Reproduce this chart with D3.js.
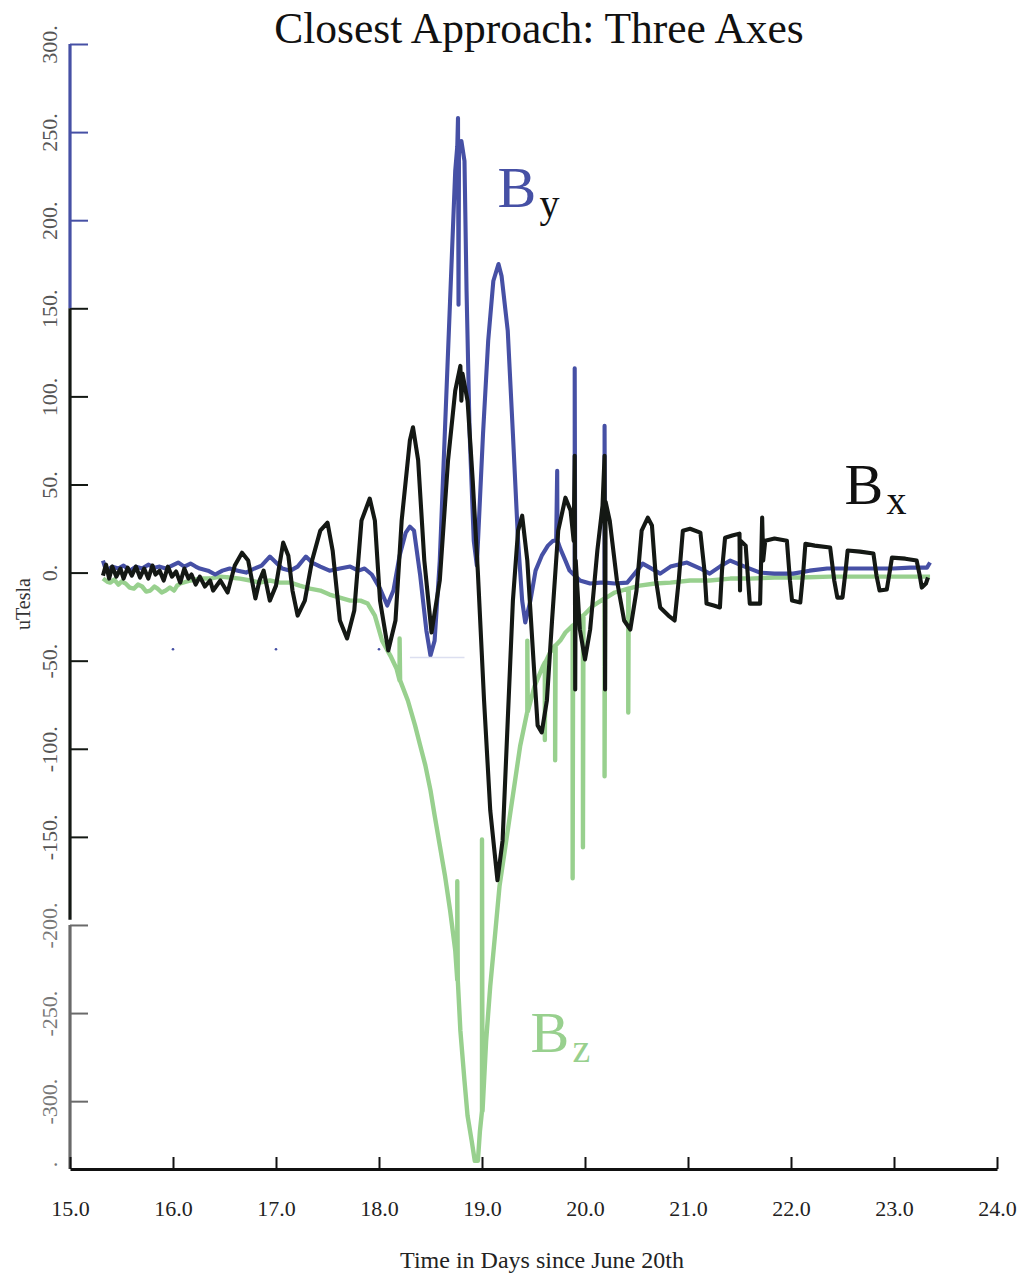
<!DOCTYPE html>
<html>
<head>
<meta charset="utf-8">
<script src="https://cdn.jsdelivr.net/npm/d3@7"></script>
<style>
  body { margin: 0; background: #fff; }
  svg { display: block; font-family: "Liberation Serif", "Times New Roman", serif; }
</style>
</head>
<body>
<div id="chart"></div>
<script>
// [days since June 20th, uTesla]
const bz = [
  [15.32,-3.4],[15.36,-5.1],[15.39,-5.7],[15.43,-4.0],[15.47,-6.8],[15.50,-5.1],[15.54,-6.2],[15.58,-8.5],
  [15.62,-9.1],[15.66,-6.8],[15.70,-7.9],[15.74,-10.8],[15.78,-10.2],[15.82,-7.9],[15.85,-9.1],[15.89,-11.3],
  [15.93,-10.2],[15.97,-8.5],[16.01,-10.2],[16.04,-7.4],[16.07,-6.2],[16.17,-4.5],[16.26,-3.4],[16.36,-3.4],
  [16.46,-2.3],[16.55,-2.8],[16.65,-3.4],[16.75,-4.5],[16.84,-5.7],[16.94,-4.5],[17.04,-5.7],[17.14,-5.7],
  [17.23,-7.4],[17.33,-9.1],[17.43,-10.2],[17.52,-12.5],[17.62,-14.2],[17.72,-15.9],[17.82,-15.9],
  [17.89,-17.6],[17.96,-24.4],[18.03,-38.6],[18.11,-47.1],[18.17,-54.4],[18.20,-61.2],[18.20,-37.4],
  [18.205,-61.2],[18.28,-72.6],[18.35,-86.7],[18.40,-98.1],[18.45,-109.4],[18.50,-123.6],[18.54,-137.8],
  [18.59,-154.8],[18.64,-171.8],[18.69,-191.6],[18.74,-214.3],[18.76,-231.3],[18.76,-175.2],[18.765,-231.3],
  [18.79,-260],[18.83,-288.5],[18.86,-308.4],[18.90,-322.6],[18.93,-333.9],[18.96,-333.9],[18.98,-316.9],
  [19.00,-305.6],[19.00,-151.5],[19.005,-305.6],[19.04,-265.9],[19.08,-234.7],[19.13,-203.5],[19.17,-178],
  [19.22,-158.2],[19.27,-138.3],[19.32,-118.5],[19.37,-98.6],[19.44,-78.8],[19.44,-38.6],[19.445,-78.8],
  [19.51,-64.6],[19.59,-53.3],[19.61,-51],[19.61,-95],[19.615,-51],[19.66,-45.4],[19.71,-41.4],
  [19.71,-106.5],[19.715,-41.4],[19.76,-38.6],[19.81,-34],[19.88,-30.1],[19.88,-173.5],[19.885,-30.1],
  [19.98,-24.4],[19.98,-155.9],[19.985,-24.4],[20.08,-18.7],[20.19,-14.7],[20.19,-115.6],[20.195,-14.7],
  [20.29,-11.3],[20.42,-9.1],[20.42,-79.4],[20.425,-9.1],[20.53,-7.4],[20.68,-6.2],[20.83,-5.7],
  [21.02,-4.5],[21.21,-4.5],[21.41,-3.4],[21.60,-3.4],[21.84,-2.8],[22.09,-2.8],[22.38,-2.3],[22.67,-2.3],
  [22.96,-2.3],[23.35,-2.3]
];

const by = [
  [15.32,6.8],[15.35,1.1],[15.41,3.4],[15.47,2.3],[15.52,4.0],[15.58,1.1],[15.64,3.4],[15.70,2.3],
  [15.76,4.5],[15.82,2.8],[15.87,3.4],[15.93,2.3],[15.99,4.0],[16.05,5.7],[16.11,3.4],[16.17,5.1],
  [16.22,3.4],[16.26,2.3],[16.34,1.1],[16.41,-1.1],[16.48,1.1],[16.55,2.3],[16.63,1.1],[16.71,0],
  [16.79,2.3],[16.86,4.0],[16.94,9.1],[17.00,5.7],[17.06,2.3],[17.14,1.1],[17.21,3.4],[17.29,9.1],
  [17.35,5.7],[17.43,3.4],[17.52,1.1],[17.62,2.3],[17.72,3.4],[17.80,1.1],[17.86,2.3],[17.93,-1.1],
  [18.01,-9.1],[18.08,-18.7],[18.14,-10.2],[18.20,9.6],[18.26,22.7],[18.30,26.1],[18.34,23.8],
  [18.40,-1.7],[18.46,-32.9],[18.50,-47.1],[18.54,-38.6],[18.59,6.8],[18.64,80.5],[18.69,154.2],
  [18.74,227.9],[18.76,242],[18.767,258],[18.772,152],[18.777,242],[18.80,244.9],[18.83,233.6],
  [18.85,160],[18.88,78.8],[18.92,18.1],[18.95,4.0],[19.01,78.8],[19.06,131.5],[19.11,165.5],
  [19.16,175.1],[19.19,168.3],[19.25,137.2],[19.30,78.8],[19.35,18.1],[19.39,-15.9],[19.42,-28.3],
  [19.47,-15.9],[19.52,1.1],[19.58,9.6],[19.64,15.3],[19.69,18.1],[19.72,18.1],[19.73,57.8],
  [19.733,18.1],[19.76,13.6],[19.81,6.8],[19.85,1.1],[19.90,-1.7],[19.90,116],[19.905,-1.7],
  [19.95,-4.5],[20.05,-6.2],[20.15,-5.7],[20.19,-5.7],[20.19,83.3],[20.195,-5.7],[20.29,-6.2],
  [20.41,-5.7],[20.49,0],[20.56,5.1],[20.63,2.8],[20.73,-0.6],[20.83,3.4],[20.99,5.7],[21.12,2.3],
  [21.21,-0.6],[21.31,3.4],[21.41,6.8],[21.55,3.4],[21.70,0],[21.84,-0.6],[22.02,-0.6],[22.18,1.1],
  [22.35,2.3],[22.52,2.3],[22.67,2.3],[22.86,2.3],[22.99,2.3],[23.16,2.8],[23.32,2.8],[23.35,5.7]
];

const bx = [
  [15.32,-1.7],[15.35,4.5],[15.38,-3.4],[15.41,3.4],[15.45,-2.3],[15.49,2.3],[15.52,-3.4],[15.56,2.8],
  [15.60,-1.7],[15.64,3.4],[15.68,-2.8],[15.72,2.3],[15.76,-3.4],[15.80,4.0],[15.83,-1.1],[15.87,1.1],
  [15.91,-4.5],[15.95,3.4],[15.99,-2.3],[16.03,0.6],[16.07,-5.7],[16.11,2.3],[16.15,-3.4],[16.18,-1.1],
  [16.22,-6.8],[16.26,-2.3],[16.31,-7.9],[16.36,-4.5],[16.39,-10.2],[16.46,-4.5],[16.53,-11.3],[16.60,4.0],
  [16.67,11.3],[16.73,6.8],[16.80,-14.7],[16.84,-4.5],[16.88,1.1],[16.94,-15.9],[17.00,-7.4],[17.07,17.0],
  [17.12,9.6],[17.16,-10.2],[17.21,-24.4],[17.28,-15.9],[17.35,6.8],[17.43,23.8],[17.50,28.3],[17.55,12.5],
  [17.62,-27.2],[17.69,-37.4],[17.76,-21.5],[17.83,29.5],[17.91,42.0],[17.96,29.5],[18.01,-15.9],
  [18.09,-44.2],[18.16,-27.2],[18.22,29.5],[18.30,75.1],[18.33,82.5],[18.38,63.8],[18.44,6.8],
  [18.51,-34.0],[18.59,-4.5],[18.67,63.5],[18.74,103.2],[18.79,117.3],[18.80,97.5],[18.81,113],
  [18.86,97.5],[18.91,52.2],[18.96,0],[19.02,-72.6],[19.08,-134.9],[19.15,-174.6],[19.20,-152],
  [19.25,-83.9],[19.30,-15.9],[19.35,23.8],[19.39,32.3],[19.44,6.8],[19.50,-49.9],[19.54,-86.7],
  [19.58,-90.7],[19.63,-72.6],[19.68,-27.2],[19.74,23.8],[19.81,42.5],[19.86,35.2],[19.89,18.1],
  [19.90,66.3],[19.905,-66.3],[19.91,6.8],[19.95,-32.3],[20.00,-49.3],[20.05,-32.3],[20.12,12.5],
  [20.17,37.9],[20.19,66.3],[20.195,-66.3],[20.20,40.2],[20.24,29.5],[20.31,-4.5],[20.38,-27.2],
  [20.44,-32.3],[20.50,-10.2],[20.55,23.8],[20.61,31.2],[20.65,26.7],[20.69,-4.5],[20.73,-19.8],
  [20.81,-24.4],[20.87,-27.2],[20.91,-4.5],[20.95,23.8],[21.02,24.9],[21.12,22.7],[21.16,1.1],
  [21.18,-17.6],[21.25,-18.7],[21.31,-19.8],[21.33,1.1],[21.36,19.8],[21.43,21.0],[21.50,22.1],
  [21.505,-10.2],[21.51,18.1],[21.56,15.3],[21.60,-17.6],[21.65,-17.6],[21.70,-17.6],[21.72,31.2],
  [21.73,6.8],[21.75,18.1],[21.84,19.3],[21.96,18.1],[21.99,-4.5],[22.01,-15.9],[22.09,-17.0],
  [22.12,1.1],[22.14,16.4],[22.23,15.3],[22.38,14.2],[22.42,-4.5],[22.45,-14.2],[22.50,-14.2],
  [22.53,1.1],[22.55,12.5],[22.67,11.9],[22.80,10.8],[22.83,-1.7],[22.86,-10.2],[22.93,-9.6],
  [22.96,1.1],[22.98,8.5],[23.11,7.9],[23.22,6.8],[23.25,-1.7],[23.27,-8.5],[23.31,-6.2],[23.33,-2.8]
];

// stray marks in the original plot
const strayDots = [[16.0,-43.5],[17.0,-43.5],[18.0,-43.5]];
const strayLine = [[18.30,-48.2],[18.83,-48.2]];

const xTicks = [15, 16, 17, 18, 19, 20, 21, 22, 23, 24];
const yTicks = [300, 250, 200, 150, 100, 50, 0, -50, -100, -150, -200, -250, -300];

const labels = [
  { main: "B", sub: "y", t: 19.15, v: 207.5, color: "#4650a5", subColor: "#111" },
  { main: "B", sub: "x", t: 22.52, v: 39, color: "#111", subColor: "#111" },
  { main: "B", sub: "z", t: 19.47, v: -272, color: "#98d08e", subColor: "#98d08e" }
];

const blue = "#4650a5", green = "#98d08e", black = "#141814", gray = "#6a6a6a";

const width = 1029, height = 1279;
const svg = d3.select("#chart").append("svg")
  .attr("width", width).attr("height", height);
svg.append("rect").attr("width", width).attr("height", height).attr("fill", "#fff");

const x = d3.scaleLinear().domain([15, 24]).range([70, 997]);
const y = d3.scaleLinear().domain([-338.5, 300]).range([1169, 44]);

// title
svg.append("text")
  .attr("x", 539).attr("y", 43)
  .attr("text-anchor", "middle")
  .style("font-size", "43.5px").style("fill", "#111")
  .text("Closest Approach: Three Axes");

// series, green under blue under black
const line = d3.line().x(d => x(d[0])).y(d => y(d[1]));
[[bz, green, 4.4], [by, blue, 4.1], [bx, black, 4.1]].forEach(([data, color, w]) => {
  svg.append("path").datum(data)
    .attr("fill", "none").attr("stroke", color)
    .attr("stroke-width", w)
    .attr("stroke-linejoin", "round")
    .attr("d", line);
});

svg.append("path").datum(strayLine)
  .attr("fill", "none").attr("stroke", "#dcdff0").attr("stroke-width", 1.5)
  .attr("d", line);
svg.selectAll(".stray").data(strayDots).enter().append("circle")
  .attr("class", "stray")
  .attr("cx", d => x(d[0])).attr("cy", d => y(d[1]))
  .attr("r", 1.3).attr("fill", blue);

// y axis: ticks inward, labels rotated
const yAxis = d3.axisLeft(y).tickValues(yTicks)
  .tickSizeInner(-18).tickSizeOuter(0).tickPadding(13)
  .tickFormat(d => d + ".");
const yg = svg.append("g").attr("transform", "translate(70,0)").call(yAxis);
yg.select(".domain").remove();
const tickColor = d => d >= 200 ? blue : (d >= -150 ? black : gray);
yg.selectAll(".tick line").attr("stroke", tickColor).attr("stroke-width", 2);
yg.selectAll(".tick text")
  .attr("x", null).attr("dy", null)
  .attr("text-anchor", "middle")
  .attr("transform", "translate(-13,0) rotate(-90)")
  .style("font-family", "Liberation Serif, serif")
  .style("font-size", "22px")
  .attr("fill", d => d >= -150 ? "#555" : "#777");

const segments = [
  { from: 300, to: 150, color: blue },
  { from: 150, to: -197, color: black },
  { from: -200, to: -338.5, color: gray }
];
svg.selectAll(".yseg").data(segments).enter().append("line")
  .attr("class", "yseg")
  .attr("x1", 70).attr("x2", 70)
  .attr("y1", d => y(d.from)).attr("y2", d => y(d.to))
  .attr("stroke", d => d.color).attr("stroke-width", 3.2);

svg.append("text")
  .attr("transform", `translate(57,${y(-336)}) rotate(-90)`)
  .attr("text-anchor", "middle")
  .style("font-size", "22px").style("fill", "#777")
  .text(".");

svg.append("text")
  .attr("transform", `translate(30,604) rotate(-90)`)
  .attr("text-anchor", "middle")
  .style("font-size", "20px").style("fill", "#333")
  .text("uTesla");

// x axis
const xAxis = d3.axisBottom(x).tickValues(xTicks)
  .tickSizeInner(-12).tickSizeOuter(0).tickPadding(31)
  .tickFormat(d3.format(".1f"));
const xg = svg.append("g").attr("transform", "translate(0,1169)").call(xAxis);
xg.select(".domain").attr("stroke", "#111").attr("stroke-width", 3);
xg.selectAll(".tick line").attr("stroke", "#111").attr("stroke-width", 2);
xg.selectAll(".tick text")
  .style("font-family", "Liberation Serif, serif")
  .style("font-size", "22px").attr("fill", "#222");

svg.append("text")
  .attr("x", 542).attr("y", 1268)
  .attr("text-anchor", "middle")
  .style("font-size", "24px").style("fill", "#222")
  .text("Time in Days since June 20th");

// series labels
labels.forEach(l => {
  svg.append("text")
    .attr("x", x(l.t)).attr("y", y(l.v))
    .style("font-size", "58px").style("fill", l.color)
    .text(l.main);
  svg.append("text")
    .attr("x", x(l.t) + 42).attr("y", y(l.v) + 10)
    .style("font-size", "40px").style("fill", l.subColor)
    .text(l.sub);
});
</script>
</body>
</html>
